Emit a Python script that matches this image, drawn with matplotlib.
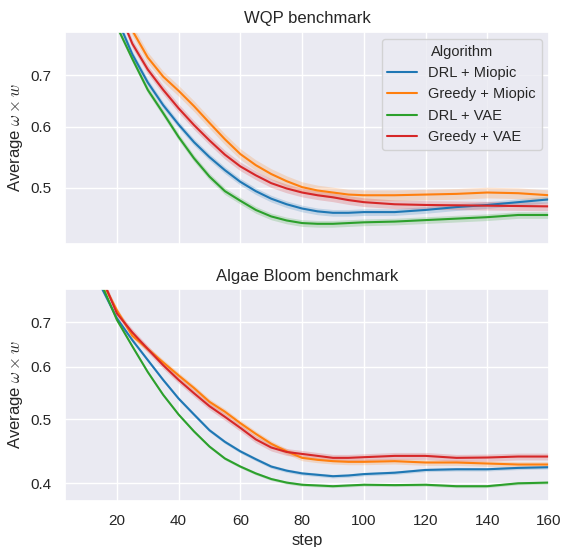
import numpy as np
import matplotlib
matplotlib.use("Agg")
import matplotlib.pyplot as plt
import seaborn as sns
from matplotlib.ticker import FixedLocator, FixedFormatter, NullLocator

sns.set_theme(style="darkgrid", context="notebook")
plt.rcParams["font.family"] = ["Liberation Sans", "DejaVu Sans"]
plt.rcParams["mathtext.fontset"] = "cm"

steps = [15, 20, 25, 30, 35, 40, 45, 50, 55, 60, 65, 70, 75, 80, 85, 90,
         95, 100, 110, 120, 130, 140, 150, 160]
algorithms = ["DRL + Miopic", "Greedy + Miopic", "DRL + VAE", "Greedy + VAE"]

# WQP benchmark
wqp_drl_miopic = [0.93, 0.83, 0.745, 0.685, 0.640, 0.604, 0.573, 0.548, 0.527, 0.509,
                  0.495, 0.484, 0.476, 0.470, 0.466, 0.464, 0.464, 0.465, 0.465,
                  0.468, 0.472, 0.475, 0.479, 0.483]
wqp_greedy_miopic = [1.00, 0.90, 0.80, 0.738, 0.697, 0.668, 0.638, 0.607, 0.578, 0.553,
                     0.535, 0.521, 0.510, 0.501, 0.496, 0.493, 0.490, 0.489, 0.489,
                     0.490, 0.491, 0.493, 0.492, 0.489]
wqp_drl_vae = [0.91, 0.81, 0.735, 0.670, 0.625, 0.582, 0.546, 0.517, 0.495, 0.481,
               0.468, 0.459, 0.4535, 0.450, 0.449, 0.449, 0.450, 0.451, 0.452,
               0.454, 0.456, 0.458, 0.461, 0.461]
wqp_greedy_vae = [0.96, 0.86, 0.769, 0.712, 0.670, 0.634, 0.603, 0.576, 0.552, 0.533,
                  0.519, 0.507, 0.499, 0.493, 0.489, 0.486, 0.482, 0.479, 0.476,
                  0.475, 0.4745, 0.474, 0.4735, 0.473]

# Algae Bloom benchmark
algae_drl_miopic = [0.79, 0.71, 0.658, 0.614, 0.573, 0.537, 0.508, 0.481, 0.462, 0.447,
                    0.435, 0.424, 0.418, 0.414, 0.412, 0.410, 0.411, 0.413, 0.415,
                    0.419, 0.420, 0.420, 0.422, 0.423]
algae_greedy_miopic = [0.81, 0.73, 0.668, 0.638, 0.609, 0.582, 0.557, 0.531, 0.513, 0.493,
                       0.475, 0.459, 0.447, 0.437, 0.434, 0.432, 0.431, 0.431, 0.432,
                       0.430, 0.430, 0.4285, 0.427, 0.427]
algae_drl_vae = [0.80, 0.706, 0.644, 0.589, 0.544, 0.508, 0.479, 0.4545, 0.436, 0.424,
                 0.414, 0.406, 0.401, 0.398, 0.397, 0.396, 0.397, 0.398, 0.3975,
                 0.398, 0.396, 0.396, 0.400, 0.401]
algae_greedy_vae = [0.82, 0.722, 0.676, 0.638, 0.603, 0.573, 0.547, 0.523, 0.504, 0.485,
                    0.466, 0.453, 0.446, 0.443, 0.440, 0.437, 0.437, 0.438, 0.440,
                    0.440, 0.437, 0.4375, 0.439, 0.439]

# relative half-width of the confidence band
wqp_ci = [0.010, 0.016, 0.010, 0.013]
algae_ci = [0.006, 0.010, 0.005, 0.012]

colors = sns.color_palette("tab10", 4)

fig = plt.figure(figsize=(5.62, 5.47), dpi=100)
ax1 = fig.add_axes([0.1157, 0.5539, 0.9769 - 0.1157, 0.942 - 0.5539])
ax2 = fig.add_axes([0.1157, 0.0846, 0.9769 - 0.1157, 0.4717 - 0.0846], sharex=ax1)

panels = [
    (ax1, "WQP benchmark", [wqp_drl_miopic, wqp_greedy_miopic, wqp_drl_vae, wqp_greedy_vae],
     wqp_ci, (0.4227, 0.797), [0.5, 0.6, 0.7]),
    (ax2, "Algae Bloom benchmark", [algae_drl_miopic, algae_greedy_miopic, algae_drl_vae,
                                    algae_greedy_vae],
     algae_ci, (0.3765, 0.786), [0.4, 0.5, 0.6, 0.7]),
]

x = np.array(steps)
for ax, title, series, ci, ylim, yticks in panels:
    for name, vals, c, color in zip(algorithms, series, ci, colors):
        v = np.array(vals)
        ax.fill_between(x, v * (1 - c), v * (1 + c), color=color, alpha=0.2, lw=0)
        ax.plot(x, v, color=color, lw=1.5, label=name)
    ax.set_yscale("log")
    ax.set_ylim(*ylim)
    ax.yaxis.set_major_locator(FixedLocator(yticks))
    ax.yaxis.set_major_formatter(FixedFormatter([str(t) for t in yticks]))
    ax.yaxis.set_minor_locator(NullLocator())
    ax.set_title(title, fontsize=12)
    ax.set_ylabel(r"Average $\omega \times w$")

ax1.set_xlim(3.2, 160)
ax1.set_xticks([20, 40, 60, 80, 100, 120, 140, 160])
ax1.tick_params(labelbottom=False)
ax2.set_xlabel("step")
ax1.legend(title="Algorithm", loc="upper right", fontsize=10.5, title_fontsize=10.5)

fig.savefig("out.png", dpi=100)
